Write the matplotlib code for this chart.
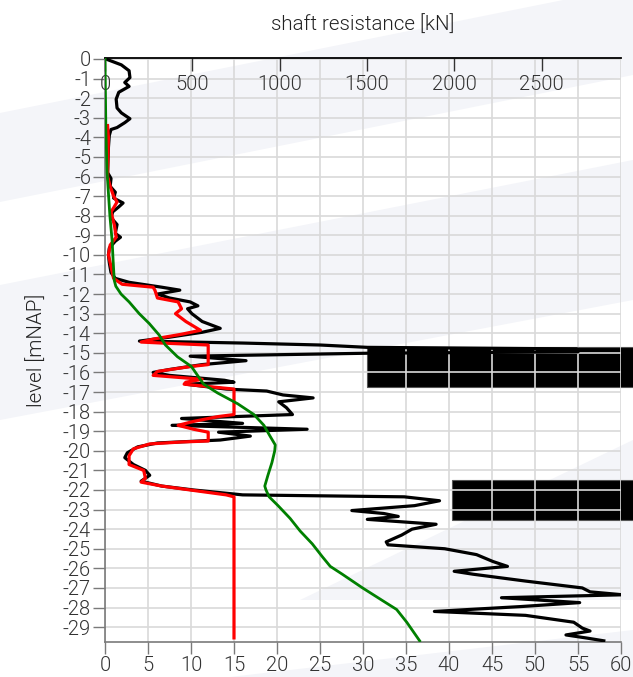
import numpy as np
import matplotlib.pyplot as plt
from matplotlib.patches import Polygon, Rectangle

plt.rcParams['font.family'] = ['Roboto', 'DejaVu Sans']
plt.rcParams['font.weight'] = 300
plt.rcParams['axes.unicode_minus'] = False

# cone resistance qc [MPa] against level [mNAP]
qc_level = [0.0, -0.3, -0.6, -0.95, -1.2, -1.4, -1.7, -2.05, -2.5, -2.75, -3.05, -3.25, -3.5, -3.6,
            -3.9, -4.5, -5.8, -6.1, -6.5, -6.8, -7.1, -7.35, -7.55, -7.8, -8.1, -8.45, -8.9, -9.1,
            -9.3, -9.65, -10.0, -10.4, -10.9, -11.2, -11.4, -11.65, -11.8, -12.0, -12.2, -12.4,
            -12.6, -12.75, -13.0, -13.4, -13.75, -13.95, -14.2, -14.4, -14.5, -14.6, -14.72, -14.8,
            -14.95, -15.02, -15.17, -15.4, -15.6, -15.85, -16.0, -16.15, -16.4, -16.5, -16.6, -16.85,
            -16.95, -17.15, -17.3, -17.5, -17.8, -18.15, -18.35, -18.6, -18.7, -18.9, -19.05,
            -19.25, -19.45, -19.6, -19.8, -20.1, -20.35, -20.7, -21.0, -21.25, -21.55, -21.8,
            -22.0, -22.25, -22.35, -22.55, -22.8, -23.05, -23.2, -23.35, -23.5, -23.75, -24.0,
            -24.3, -24.65, -24.8, -25.0, -25.3, -25.65, -25.9, -26.15, -26.3, -26.65, -27.0,
            -27.2, -27.35, -27.5, -27.75, -27.95, -28.2, -28.4, -28.75, -29.05, -29.2, -29.4,
            -29.55, -29.7]
qc = [0.1, 1.9, 2.8, 2.9, 2.3, 2.8, 1.6, 1.3, 1.4, 1.9, 2.9, 2.3, 1.4, 0.7,
      0.5, 0.4, 0.3, 0.7, 0.6, 1.2, 1.0, 2.1, 1.6, 0.9, 0.7, 1.4, 1.2, 1.8,
      1.2, 0.5, 0.4, 0.5, 0.7, 1.2, 2.8, 6.6, 8.7, 6.1, 7.5, 9.9,
      10.8, 9.6, 10.1, 11.3, 13.4, 11.3, 7.5, 4.0, 16.0, 25.0, 30.5, 55.0,
      55.0, 30.5, 9.9, 16.4, 11.3, 7.5, 5.6, 7.5, 13.9, 15.0, 9.4, 14.1,
      18.8, 20.7, 24.2, 20.2, 21.1, 21.8, 8.9, 16.0, 7.8, 23.5, 13.2,
      16.9, 13.4, 6.1, 3.8, 2.6, 2.3, 3.3, 4.7, 5.2, 4.2, 6.6,
      10.3, 16.0, 34.8, 38.9, 36.0, 28.7, 32.4, 34.1, 30.5, 38.5, 35.7,
      34.5, 32.7, 32.9, 39.5, 43.2, 45.1, 46.8, 40.6, 42.8, 48.9, 55.5,
      56.4, 60.2, 46.1, 55.2, 48.4, 38.3, 48.9, 54.5, 55.5, 56.4, 53.6,
      55.9, 58.0]

# limited qc used for the shaft resistance [MPa]
qc_lim_level = [-3.4, -4.0, -6.0, -6.5, -7.0, -7.3, -7.6, -7.8, -8.5, -9.1, -9.5, -10.0, -11.2,
                -11.5, -11.65, -11.8, -12.2, -12.4, -12.75, -13.0, -13.4, -13.85, -14.05, -14.3,
                -14.45, -14.5, -14.6, -15.6, -15.7, -15.95, -16.15, -16.35, -16.5, -16.6, -16.85,
                -18.15, -18.25, -18.5, -18.7, -18.9, -19.05, -19.5, -19.55, -19.65, -19.9,
                -20.25, -20.7, -21.0, -21.4, -21.6, -21.8, -22.0, -22.25, -22.35, -29.55]
qc_lim = [0.3, 0.4, 0.3, 0.6, 1.0, 1.4, 1.0, 0.7, 1.1, 1.3, 0.6, 0.4, 1.0,
          2.0, 5.6, 5.8, 6.1, 8.5, 8.9, 8.2, 9.4, 11.1, 8.9, 5.6,
          4.2, 6.6, 12.0, 12.0, 9.9, 6.1, 5.6, 11.3, 9.4, 9.2, 15.0,
          15.0, 13.2, 10.3, 8.5, 10.3, 12.0, 12.0, 8.9, 5.2, 3.3,
          2.8, 2.8, 4.5, 4.7, 4.2, 6.6, 9.9, 14.1, 15.0, 15.0]

# shaft resistance [kN]
rs_level = [0.0, -3.6, -5.8, -8.0, -9.3, -10.2, -11.3, -11.6, -12.0, -12.4, -13.0, -13.5, -14.1,
            -14.6, -15.2, -15.7, -16.15, -16.6, -17.05, -17.6, -18.15, -18.7, -19.25, -19.7,
            -20.0, -20.6, -21.25, -21.8, -22.0, -22.35, -22.8, -23.45, -24.1, -24.75, -25.4,
            -25.9, -26.3, -27.0, -27.65, -28.1, -28.75, -29.7]
rs = [0, 5, 12, 28, 41, 46, 53, 62, 92, 138, 196, 253, 311,
      346, 415, 495, 530, 565, 645, 760, 853, 910, 945, 975,
      972, 956, 933, 915, 922, 940, 991, 1060, 1118, 1187, 1244,
      1290, 1359, 1475, 1590, 1670, 1728, 1802]

# blacked out annotation boxes: (qc start, level top, level bottom)
boxes = [(30.45, -14.72, -16.72), (40.4, -21.5, -23.55)]

W, H = 633, 677
fig = plt.figure(figsize=(W / 100, H / 100), dpi=100)


def fig_xy(pts):
    return [(x / W, 1 - y / H) for x, y in pts]


# faint watermark bands in the background
band = '#f4f5f9'
for pts in [[(0, 113), (0, 202), (633, 75), (633, -14)],
            [(0, 285), (0, 420), (633, 300), (633, 160)],
            [(300, 600), (633, 600), (633, 440)],
            [(230, 677), (633, 677), (633, 630)]]:
    fig.patches.append(Polygon(fig_xy(pts), closed=True, transform=fig.transFigure,
                               facecolor=band, edgecolor='none', zorder=-10))

ax = fig.add_axes([105 / W, 1 - 642 / H, (621 - 105) / W, (642 - 58) / H])
ax.patch.set_alpha(0)
ax.set_xlim(0, 60)
ax.set_ylim(-29.76, 0.05)
ax.set_xticks(np.arange(0, 61, 5))
ax.set_yticks(np.arange(0, -30, -1))
ax.set_yticklabels([str(v) for v in range(0, -30, -1)])
ax.set_axisbelow(True)
ax.grid(True, color='#d9d9d9', linewidth=1.2)

tick_col = '#7a7a7a'
for side in ['left', 'bottom']:
    ax.spines[side].set_color(tick_col)
    ax.spines[side].set_linewidth(1.2)
ax.spines['top'].set_visible(False)
ax.spines['right'].set_visible(False)
ax.tick_params(axis='both', direction='out', length=8.5, width=1.0, color=tick_col,
               labelcolor='#333333', labelsize=14.5, pad=1.5)

for x0, y_top, y_bot in boxes:
    ax.add_patch(Rectangle((x0, y_bot), 80 - x0, y_top - y_bot, facecolor='black',
                           edgecolor='#555555', linewidth=0.8, clip_on=False, zorder=0.2))

ax.plot(qc, qc_level, color='black', linewidth=2.3, zorder=3)
ax.plot(qc_lim, qc_lim_level, color='#ff0000', linewidth=2.3, zorder=4)

ax2 = ax.twiny()
ax2.set_xlim(0, 2955)
ax2.set_xticks(np.arange(0, 2501, 500))
ax2.spines['top'].set_color('black')
ax2.spines['top'].set_linewidth(1.3)
for side in ['left', 'bottom', 'right']:
    ax2.spines[side].set_visible(False)
ax2.tick_params(axis='x', direction='in', length=9, width=1.0, color='#333333',
                labelcolor='#333333', labelsize=14.5, pad=-26)
ax2.plot(rs, rs_level, color='#008000', linewidth=2.0, zorder=5)

fig.text(363 / W, 1 - 25 / H, 'shaft resistance [kN]', ha='center', va='center',
         fontsize=14.8, color='#222222')
fig.text(37 / W, 1 - 350 / H, 'level [mNAP]', ha='center', va='center', rotation=90,
         fontsize=14.8, color='#222222')

fig.savefig('out.png', dpi=100)
